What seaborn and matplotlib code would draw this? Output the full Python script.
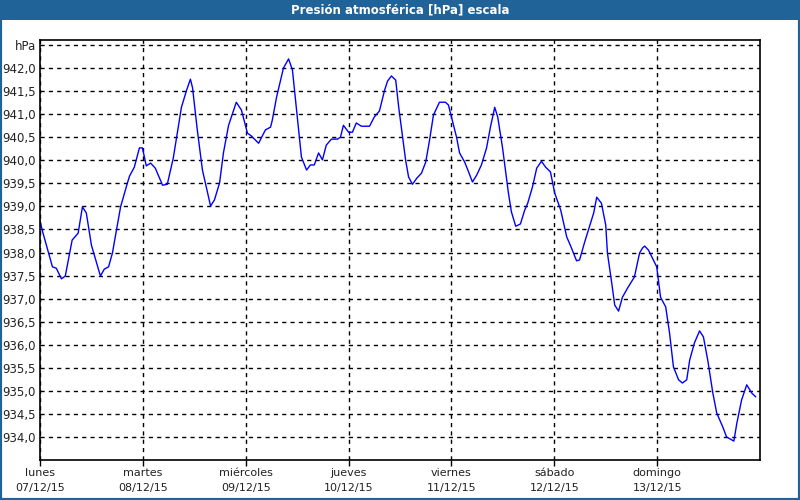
import matplotlib
matplotlib.use('Agg')
import matplotlib.pyplot as plt
import seaborn as sns
import pandas as pd
from matplotlib.patches import Rectangle

# Hours since lunes 07/12/15 00:00, and pressure in hPa
hours = [0.0, 0.5, 2.9, 3.8, 5.0, 5.9, 7.5, 8.9, 9.9, 10.8, 12.0, 14.1, 15.0, 16.0,
         16.9, 18.8, 20.4, 20.9, 22.0, 23.2, 23.9, 24.8, 25.8, 26.9, 28.6, 29.7,
         31.1, 33.0, 34.2, 35.1, 35.6, 36.7, 37.9, 38.8, 39.8, 40.7, 41.9, 42.8,
         44.0, 45.8, 47.0, 48.4, 49.3, 51.0, 52.6, 53.8, 54.2, 55.2, 56.8, 58.0,
         58.9, 59.8, 60.5, 61.0, 62.2, 63.1, 64.0, 65.0, 65.9, 66.8, 68.0, 69.4,
         70.1, 70.8, 72.0, 72.9, 73.8, 75.0, 76.9, 78.0, 79.2, 80.4, 81.1, 82.0,
         83.0, 83.7, 84.6, 85.3, 86.0, 86.9, 87.9, 89.0, 90.0, 90.9, 91.8, 93.2,
         94.6, 95.3, 96.0, 97.2, 97.9, 99.1, 100.0, 100.9, 101.9, 103.0, 104.2,
         105.1, 106.1, 106.8, 107.9, 108.6, 109.3, 110.0, 111.0, 112.1, 113.1,
         113.8, 114.9, 115.9, 117.0, 118.0, 119.1, 120.1, 121.5, 122.9, 124.0,
         125.2, 125.9, 127.1, 128.2, 129.2, 129.9, 131.0, 132.0, 132.4, 133.4,
         134.1, 135.0, 135.9, 137.1, 138.7, 139.9, 140.6, 141.1, 142.0, 142.9,
         143.9, 144.8, 146.0, 146.9, 147.8, 149.0, 149.9, 150.9, 151.6, 152.7,
         153.9, 154.8, 155.8, 157.0, 157.9, 159.3, 160.2, 161.9, 162.6, 163.7,
         164.9, 166.1, 167.0]
pressure = [938.70, 938.49, 937.69, 937.66, 937.43, 937.49, 938.27, 938.42, 938.99,
            938.86, 938.16, 937.49, 937.64, 937.69, 937.99, 938.99, 939.51, 939.66,
            939.85, 940.27, 940.27, 939.88, 939.94, 939.83, 939.46, 939.48, 940.05,
            941.15, 941.52, 941.76, 941.57, 940.66, 939.79, 939.42, 939.01, 939.14,
            939.51, 940.16, 940.76, 941.26, 941.09, 940.59, 940.53, 940.37, 940.66,
            940.72, 940.87, 941.37, 942.00, 942.20, 941.96, 941.15, 940.50, 940.07,
            939.79, 939.90, 939.90, 940.16, 940.01, 940.33, 940.46, 940.46, 940.50,
            940.76, 940.61, 940.61, 940.81, 940.74, 940.74, 940.94, 941.07, 941.52,
            941.72, 941.83, 941.74, 941.15, 940.50, 940.01, 939.64, 939.48, 939.61,
            939.72, 939.96, 940.44, 940.98, 941.26, 941.26, 941.20, 940.94, 940.50,
            940.16, 939.96, 939.75, 939.53, 939.68, 939.90, 940.27, 940.72, 941.15,
            940.94, 940.29, 939.79, 939.29, 938.88, 938.57, 938.62, 938.92, 939.07,
            939.42, 939.83, 939.98, 939.85, 939.75, 939.29, 938.92, 938.34, 938.10,
            937.82, 937.84, 938.23, 938.56, 938.86, 939.20, 939.07, 938.60, 937.99,
            937.34, 936.86, 936.73, 937.03, 937.23, 937.47, 937.99, 938.10, 938.14,
            938.05, 937.88, 937.69, 937.03, 936.82, 936.25, 935.52, 935.24, 935.17,
            935.24, 935.67, 936.04, 936.30, 936.17, 935.67, 934.95, 934.52, 934.22,
            934.00, 933.91, 934.30, 934.80, 935.13, 934.95, 934.87]

day_ticks = [0, 24, 48, 72, 96, 120, 144]
day_labels = ['lunes\n07/12/15', 'martes\n08/12/15', 'miércoles\n09/12/15',
              'jueves\n10/12/15', 'viernes\n11/12/15', 'sábado\n12/12/15',
              'domingo\n13/12/15']
y_ticks = [934.0 + 0.5 * i for i in range(18)]
y_labels = [f'{v:.1f}'.replace('.', ',') for v in y_ticks[:-1]] + ['hPa']

title = 'Presión atmosférica [hPa] escala'
frame_blue = '#1f6399'

sns.set_style('white')
plt.rcParams['font.family'] = ['DejaVu Sans']

df = pd.DataFrame({'horas': hours, 'hPa': pressure})

fig = plt.figure(figsize=(8, 5), dpi=100)
ax = fig.add_axes([0.05, 0.08, 0.90, 0.84])

sns.lineplot(data=df, x='horas', y='hPa', ax=ax, color='#0000ff', linewidth=1)

ax.set_xlim(0, 168)
ax.set_ylim(933.5, 942.61)
ax.set_xticks(day_ticks)
ax.set_xticklabels(day_labels, fontsize=8, color='#222222', linespacing=1.6)
ax.set_yticks(y_ticks)
ax.set_yticklabels(y_labels, fontsize=8.5, color='#222222')
ax.tick_params(axis='x', direction='out', length=4, width=1, color='black', pad=2, bottom=True)
ax.tick_params(axis='y', length=0, pad=3)
ax.grid(True, color='black', linestyle=(0, (3, 3)), linewidth=1)
ax.set_xlabel('')
ax.set_ylabel('')
for s in ax.spines.values():
    s.set_color('black')
    s.set_linewidth(1.2)
    s.set_visible(True)

# window frame and title bar
fig.patches.append(Rectangle((0, 0), 1, 1, transform=fig.transFigure, fill=False,
                             edgecolor=frame_blue, linewidth=3, zorder=0))
fig.patches.append(Rectangle((0, 0.96), 1, 0.04, transform=fig.transFigure,
                             facecolor=frame_blue, edgecolor='none', zorder=1))
fig.text(0.5, 0.98, title, color='white', fontsize=8.5, fontweight='bold',
         ha='center', va='center')

fig.savefig('out.png', dpi=100, facecolor='white')
